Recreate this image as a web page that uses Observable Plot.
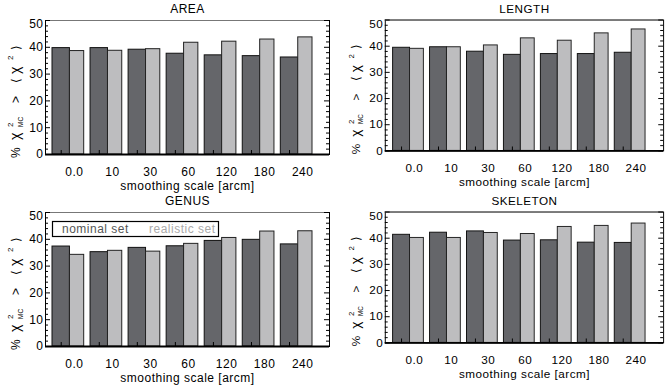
<!DOCTYPE html>
<html>
<head>
<meta charset="utf-8">
<script src="https://cdn.jsdelivr.net/npm/d3@7"></script>
<script src="https://cdn.jsdelivr.net/npm/@observablehq/plot@0.6"></script>
<style>
  html, body { margin: 0; padding: 0; background: #fff; overflow: hidden; }
  #fig { position: relative; width: 668px; height: 385px; overflow: hidden; background: #fff; }
  .panel { position: absolute; }
  .panel svg text { letter-spacing: 0.5px; }
</style>
</head>
<body>
<div id="fig"></div>
<script>
// Smoothing scales (arcmin) and percentage of MC realisations with chi2 above the mean
const scales = ["0.0", "10", "30", "60", "120", "180", "240"];

const areaNominal       = [39.7, 39.7, 39.1, 37.6, 37.0, 36.7, 36.2];
const areaRealistic     = [38.6, 38.7, 39.3, 41.7, 42.1, 42.9, 43.7];
const lengthNominal     = [39.4, 39.6, 37.9, 36.7, 37.0, 37.0, 37.5];
const lengthRealistic   = [39.0, 39.6, 40.3, 43.0, 42.1, 44.9, 46.4];
const genusNominal      = [37.3, 35.2, 36.8, 37.4, 39.4, 39.8, 38.1];
const genusRealistic    = [34.2, 35.7, 35.4, 38.3, 40.5, 42.9, 43.0];
const skeletonNominal   = [41.3, 42.1, 42.6, 39.1, 39.2, 38.3, 38.2];
const skeletonRealistic = [40.1, 40.1, 42.0, 41.6, 44.3, 44.7, 45.6];

const yTicks = [0, 10, 20, 30, 40, 50];
const yMinor = [2, 4, 6, 8, 12, 14, 16, 18, 22, 24, 26, 28, 32, 34, 36, 38, 42, 44, 46, 48];
const seriesNames = ["nominal set", "realistic set"];
const xTitle = "smoothing scale [arcm]";

const DARK = "#65666a";
const LIGHT = "#bdbdbf";
const FONT = "'Liberation Sans', Arial, Helvetica, sans-serif";

const plotH = 134, padInner = 0.167;

function drawPanel(o) {
  const plotW = o.plotW;
  const rows = scales.map((s, i) => ({scale: s, nominal: o.nominal[i], realistic: o.realistic[i]}));
  const step = o.bandSpan / (scales.length - padInner);
  const bw = step * (1 - padInner);
  const darkW = bw * 0.55;
  const marginRight = o.width - o.marginLeft - plotW;
  const marginBottom = o.height - 20 - plotH;

  const svg = Plot.plot({
    width: o.width,
    height: o.height,
    marginLeft: o.marginLeft,
    marginRight,
    marginTop: 20,
    marginBottom,
    style: {fontFamily: FONT, fontSize: "12px", color: "#000", background: "transparent", overflow: "visible"},
    x: {type: "band", domain: scales, range: [o.marginLeft + o.bandStart, o.marginLeft + o.bandStart + o.bandSpan],
        paddingInner: padInner, paddingOuter: 0, round: false, axis: null},
    y: {domain: [0, 50], axis: null},
    marks: [
      Plot.barY(rows, {x: "scale", y: "nominal", fill: DARK, stroke: "#111", strokeWidth: 1, insetRight: bw - darkW}),
      Plot.barY(rows, {x: "scale", y: "realistic", fill: LIGHT, stroke: "#222", strokeWidth: 1, insetLeft: darkW}),
      Plot.frame({stroke: "#000"}),
      Plot.ruleY([50], {stroke: "#777"}),
      Plot.ruleY([0], {stroke: "#000", strokeWidth: 2}),
      // inward ticks on the left and right axes
      Plot.tickY(yTicks, {y: d => d, stroke: "#000", insetRight: plotW - 5}),
      Plot.tickY(yTicks, {y: d => d, stroke: "#000", insetLeft: plotW - 5}),
      Plot.tickY(yMinor, {y: d => d, stroke: "#000", insetRight: plotW - 3}),
      Plot.tickY(yMinor, {y: d => d, stroke: "#000", insetLeft: plotW - 3}),
      // short ticks on the bottom axis
      Plot.tickX(scales, {x: d => d, dx: darkW / 2 - bw / 2, stroke: "#000", insetTop: plotH - 4}),
      Plot.axisY({ticks: yTicks.filter(t => t < 50), tickSize: 0, tickPadding: 2, label: null, fontSize: 12}),
      Plot.axisY({ticks: [50], tickSize: 0, tickPadding: 2, label: null, fontSize: 12, dy: 4}),
      Plot.axisX({tickSize: 0, tickPadding: 13, dx: 6, label: null, fontSize: 12}),
      Plot.text([xTitle], {text: d => d, frameAnchor: "bottom", dy: 32, lineAnchor: "middle", fontSize: 12}),
      Plot.text([o.title], {text: d => d, frameAnchor: "top", dy: -11, lineAnchor: "middle", fontSize: 12})
    ]
  });

  // y-axis title: % chi^2_MC > <chi^2>
  const g = d3.select(svg).append("g")
    .attr("transform", `translate(${o.marginLeft - 30},100) rotate(-90)`)
    .attr("font-family", FONT)
    .attr("text-anchor", "start")
    .attr("fill", "#000");
  const piece = (txt, x, y, size) => g.append("text")
    .attr("x", x).attr("y", y).attr("font-size", size)
    .attr("text-anchor", "start").style("letter-spacing", "0px").text(txt);
  piece("%", -58, 5, 12);
  piece("\u03C7", -40, 5, 14);
  piece("2", -27, -2, 8);
  piece("MC", -27, 8, 6.5);
  piece(">", -3, 5, 12);
  piece("\u27E8", 17, 5, 12);
  piece("\u03C7", 26, 5, 14);
  piece("2", 40, -2, 8);
  piece("\u27E9", 50, 5, 12);

  if (o.legend) {
    const lg = d3.select(svg).append("g").attr("font-family", FONT).attr("font-size", 12).attr("text-anchor", "start");
    lg.append("rect").attr("x", 52.5).attr("y", 29.5).attr("width", 166).attr("height", 15)
      .attr("fill", "#fff").attr("stroke", "#000").attr("stroke-width", 1.2);
    lg.append("text").attr("x", 62).attr("y", 41).attr("fill", "#555").attr("text-anchor", "start")
      .style("letter-spacing", "0.5px").text(seriesNames[0]);
    lg.append("text").attr("x", 149).attr("y", 41).attr("fill", "#aaa").attr("text-anchor", "start")
      .style("letter-spacing", "0.5px").text(seriesNames[1]);
  }

  const div = document.createElement("div");
  div.className = "panel";
  div.style.left = o.left + "px";
  div.style.top = o.top + "px";
  div.appendChild(svg);
  document.getElementById("fig").appendChild(div);
}

const leftCol  = {left: 0,   width: 334, marginLeft: 45, plotW: 284, bandStart: 7, bandSpan: 260};
const rightCol = {left: 334, width: 342, marginLeft: 52, plotW: 285, bandStart: 8, bandSpan: 258.5};
const topRow    = {top: 0,   height: 192};
const bottomRow = {top: 192, height: 193};

drawPanel({...leftCol,  ...topRow,    title: "AREA",     nominal: areaNominal,     realistic: areaRealistic});
drawPanel({...rightCol, ...topRow,    title: "LENGTH",   nominal: lengthNominal,   realistic: lengthRealistic});
drawPanel({...leftCol,  ...bottomRow, title: "GENUS",    nominal: genusNominal,    realistic: genusRealistic, legend: true});
drawPanel({...rightCol, ...bottomRow, title: "SKELETON", nominal: skeletonNominal, realistic: skeletonRealistic});
</script>
</body>
</html>
